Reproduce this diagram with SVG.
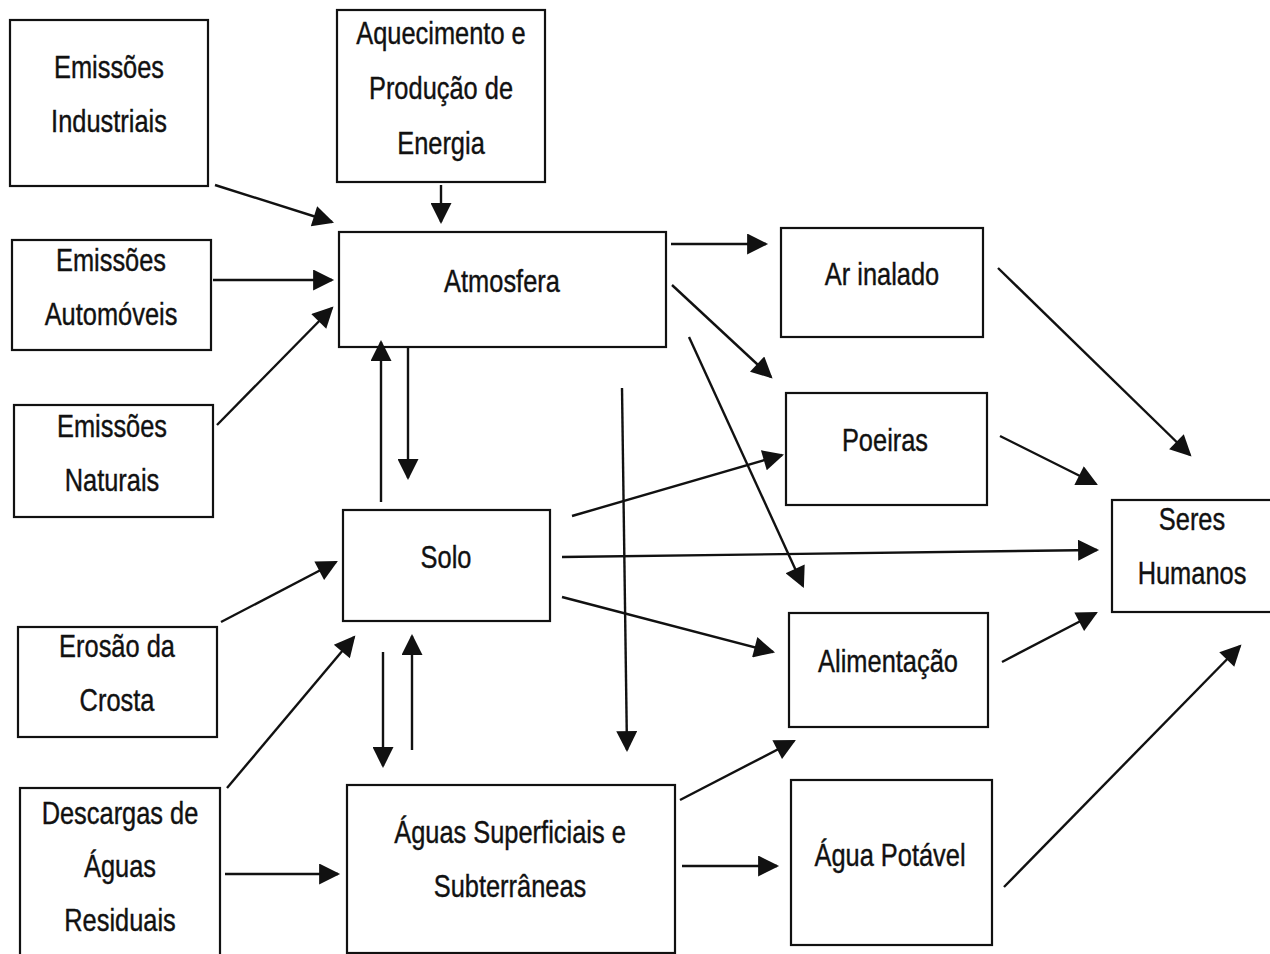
<svg xmlns="http://www.w3.org/2000/svg" width="1270" height="954" viewBox="0 0 1270 954">
<style>
.box{fill:#fff;stroke:#111;stroke-width:2.2}
.t{font-family:"Liberation Sans",Arial,sans-serif;font-size:31px;fill:#111;stroke:#111;stroke-width:0.4;text-anchor:middle;dominant-baseline:central}
.c{stroke:#111;stroke-width:2.4;fill:none;marker-end:url(#ah)}
</style>
<defs>
<marker id="ah" viewBox="0 0 10 10" refX="9" refY="5" markerUnits="userSpaceOnUse" markerWidth="24" markerHeight="21" orient="auto">
<path d="M0,0 L10,5 L0,10 z" fill="#111"/>
</marker>
</defs>
<rect width="1270" height="954" fill="#fff"/>
<g id="n-industriais"><rect class="box" x="10" y="20" width="198" height="166"/><text class="t" transform="translate(109 67) scale(0.82 1)">Emissões</text><text class="t" transform="translate(109 121) scale(0.82 1)">Industriais</text></g>
<g id="n-aquecimento"><rect class="box" x="337" y="10" width="208" height="172"/><text class="t" transform="translate(441 33) scale(0.82 1)">Aquecimento e</text><text class="t" transform="translate(441 88) scale(0.82 1)">Produção de</text><text class="t" transform="translate(441 143) scale(0.82 1)">Energia</text></g>
<g id="n-automoveis"><rect class="box" x="12" y="240" width="199" height="110"/><text class="t" transform="translate(111 260) scale(0.82 1)">Emissões</text><text class="t" transform="translate(111 314) scale(0.82 1)">Automóveis</text></g>
<g id="n-atmosfera"><rect class="box" x="339" y="232" width="327" height="115"/><text class="t" transform="translate(502 281) scale(0.82 1)">Atmosfera</text></g>
<g id="n-naturais"><rect class="box" x="14" y="405" width="199" height="112"/><text class="t" transform="translate(112 426) scale(0.82 1)">Emissões</text><text class="t" transform="translate(112 480) scale(0.82 1)">Naturais</text></g>
<g id="n-solo"><rect class="box" x="343" y="510" width="207" height="111"/><text class="t" transform="translate(446 557) scale(0.82 1)">Solo</text></g>
<g id="n-erosao"><rect class="box" x="18" y="627" width="199" height="110"/><text class="t" transform="translate(117 646) scale(0.82 1)">Erosão da</text><text class="t" transform="translate(117 700) scale(0.82 1)">Crosta</text></g>
<g id="n-descargas"><rect class="box" x="20" y="788" width="200" height="180"/><text class="t" transform="translate(120 813) scale(0.82 1)">Descargas de</text><text class="t" transform="translate(120 866) scale(0.82 1)">Águas</text><text class="t" transform="translate(120 920) scale(0.82 1)">Residuais</text></g>
<g id="n-aguas"><rect class="box" x="347" y="785" width="328" height="168"/><text class="t" transform="translate(510 832) scale(0.82 1)">Águas Superficiais e</text><text class="t" transform="translate(510 886) scale(0.82 1)">Subterrâneas</text></g>
<g id="n-ar"><rect class="box" x="781" y="228" width="202" height="109"/><text class="t" transform="translate(882 274) scale(0.82 1)">Ar inalado</text></g>
<g id="n-poeiras"><rect class="box" x="786" y="393" width="201" height="112"/><text class="t" transform="translate(885 440) scale(0.82 1)">Poeiras</text></g>
<g id="n-seres"><rect class="box" x="1112" y="500" width="170" height="112"/><text class="t" transform="translate(1192 519) scale(0.82 1)">Seres</text><text class="t" transform="translate(1192 573) scale(0.82 1)">Humanos</text></g>
<g id="n-alimentacao"><rect class="box" x="789" y="613" width="199" height="114"/><text class="t" transform="translate(888 661) scale(0.82 1)">Alimentação</text></g>
<g id="n-agua-potavel"><rect class="box" x="791" y="780" width="201" height="165"/><text class="t" transform="translate(890 855) scale(0.82 1)">Água Potável</text></g>
<g id="connectors">
<line class="c" x1="215" y1="185" x2="332" y2="222"/>
<line class="c" x1="441" y1="185" x2="441" y2="222"/>
<line class="c" x1="213" y1="280" x2="332" y2="280"/>
<line class="c" x1="217" y1="425" x2="332" y2="308"/>
<line class="c" x1="408" y1="347" x2="408" y2="478"/>
<line class="c" x1="381" y1="502" x2="381" y2="342"/>
<line class="c" x1="671" y1="244" x2="766" y2="244"/>
<line class="c" x1="672" y1="285" x2="771" y2="377"/>
<line class="c" x1="689" y1="337" x2="803" y2="586"/>
<line class="c" x1="622" y1="388" x2="627" y2="750"/>
<line class="c" x1="572" y1="516" x2="782" y2="455"/>
<line class="c" x1="562" y1="557" x2="1097" y2="550"/>
<line class="c" x1="562" y1="597" x2="773" y2="652"/>
<line class="c" x1="221" y1="622" x2="336" y2="562"/>
<line class="c" x1="227" y1="788" x2="354" y2="637"/>
<line class="c" x1="383" y1="652" x2="383" y2="766"/>
<line class="c" x1="412" y1="750" x2="412" y2="636"/>
<line class="c" x1="225" y1="874" x2="338" y2="874"/>
<line class="c" x1="680" y1="800" x2="794" y2="741"/>
<line class="c" x1="682" y1="866" x2="777" y2="866"/>
<line class="c" x1="998" y1="268" x2="1190" y2="455"/>
<line class="c" x1="1000" y1="436" x2="1096" y2="484"/>
<line class="c" x1="1002" y1="662" x2="1096" y2="613"/>
<line class="c" x1="1004" y1="887" x2="1240" y2="646"/>
</g>
</svg>
